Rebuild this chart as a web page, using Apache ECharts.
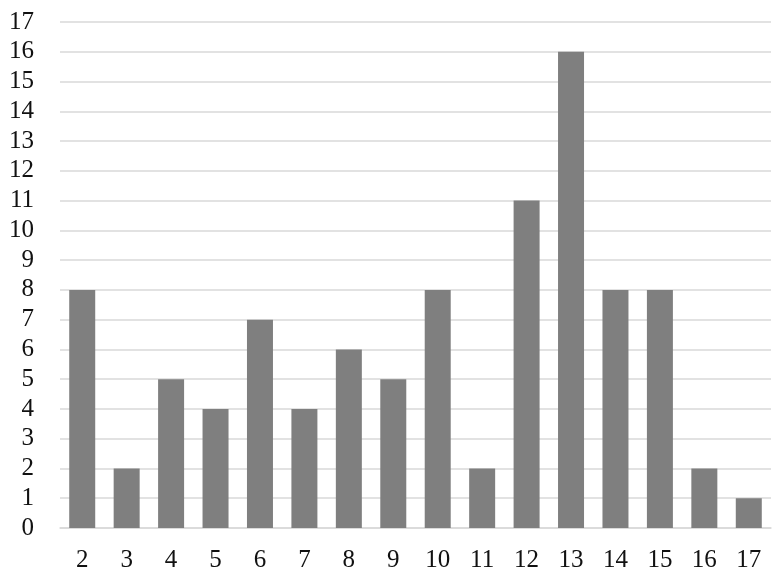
<!DOCTYPE html>
<html><head><meta charset="utf-8">
<script src="https://cdn.jsdelivr.net/npm/echarts@6/dist/echarts.min.js"></script>
<style>html,body{margin:0;padding:0;background:#fff}#c{width:775px;height:577px}</style>
</head><body><div id="c"></div>
<script>
const categories = ['2','3','4','5','6','7','8','9','10','11','12','13','14','15','16','17'];
const counts = [8,2,5,4,7,4,6,5,8,2,11,16,8,8,2,1];
const chart = echarts.init(document.getElementById('c'));
chart.setOption({
  animation:false,
  grid:{left:60,right:4,top:22,bottom:49,containLabel:false},
  xAxis:{type:'category',data:categories,
    axisLine:{show:true,lineStyle:{color:'#d9d9d9',width:1.5}},
    axisTick:{show:false},
    axisLabel:{color:'#111',fontFamily:'Liberation Serif',fontSize:25,margin:20}},
  yAxis:{type:'value',min:0,max:17,interval:1,
    axisLine:{show:false},axisTick:{show:false},
    splitLine:{lineStyle:{color:'#d9d9d9',width:1.5}},
    axisLabel:{color:'#111',fontFamily:'Liberation Serif',fontSize:25,margin:26}},
  series:[{type:'bar',data:counts,barWidth:26,itemStyle:{color:'#7f7f7f'}}]
});
</script></body></html>
